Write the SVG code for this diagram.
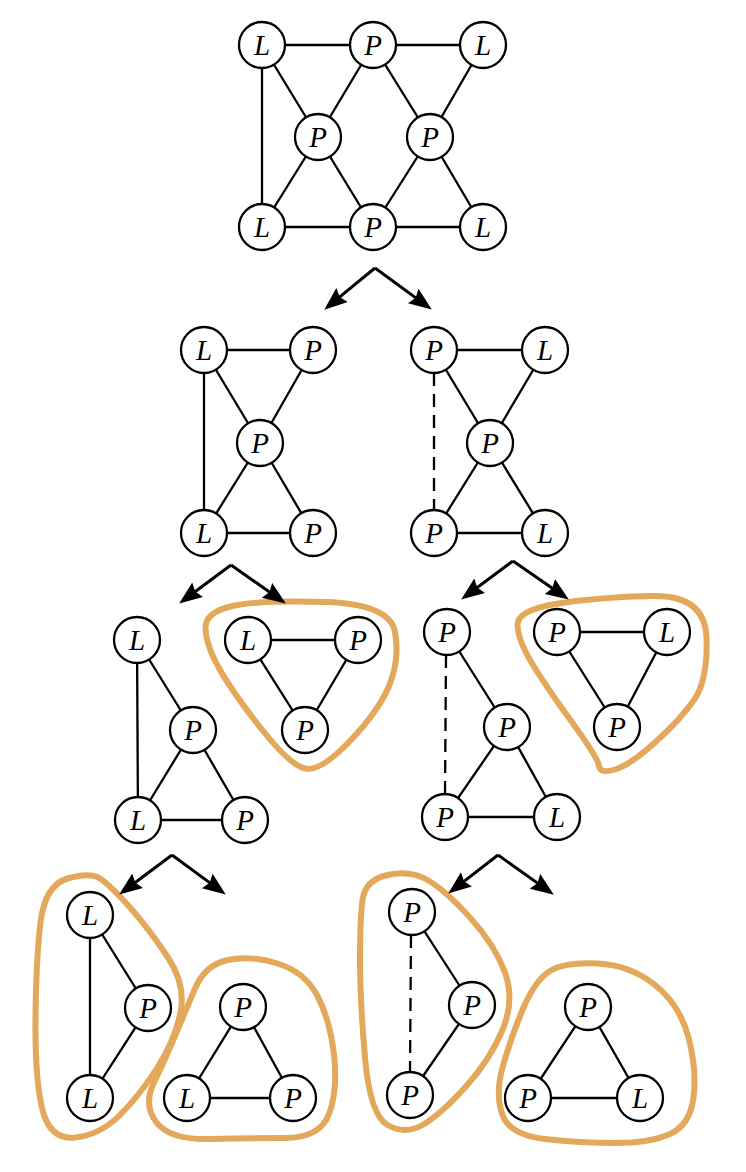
<svg xmlns="http://www.w3.org/2000/svg" width="746" height="1172" viewBox="0 0 746 1172">
  <style>
    .node circle { fill: #fff; stroke: #000; stroke-width: 2.3; }
    .node text { font-family: "Liberation Serif", "DejaVu Serif", serif; font-style: italic; font-size: 29px; text-anchor: middle; fill: #000; }
    .edge { stroke: #000; stroke-width: 2.3; fill: none; }
    .dash { stroke-dasharray: 13 8; }
    .arrow { stroke: #000; stroke-width: 3; fill: none; marker-end: url(#head); }
    .hull { fill: none; stroke: #E3A85A; stroke-width: 6; stroke-linejoin: round; }
  </style>
  <defs>
    <marker id="head" markerUnits="userSpaceOnUse" markerWidth="26" markerHeight="20" refX="10" refY="9" orient="auto">
      <path d="M0,0 L23,9 L0,18 L3,9 Z" fill="#000"/>
    </marker>
  </defs>
  <rect width="746" height="1172" fill="#fff"/>

  <!-- cluster outlines -->
  <g id="outlines">
    <path class="hull" d="M205.5,628.5 Q205,612 232.5,606 Q260,600 325,602 Q390,604 395,632 Q400,660 389,686 Q378,712 349,742 Q320,772 305,768.5 Q290,765 261.5,729 Q233,693 219.5,669 Q206,645 205.5,628.5 Z"/>
    <path class="hull" stroke-width="6.5" d="M517.5,625 Q517,610 558.5,603.5 Q600,597 652.5,596 Q705,595 706.5,637.5 Q708,680 694,700 Q680,720 655,742.5 Q630,765 615,769.5 Q600,774 599,766 Q598,758 571.5,721.5 Q545,685 531.5,662.5 Q518,640 517.5,625 Z"/>
    <path class="hull" d="M100,878.5 Q90,872 67.5,878.5 Q45,885 40.5,922.5 Q36,960 35.5,1020 Q35,1080 42.5,1110 Q50,1140 75,1137.5 Q100,1135 120,1115 Q140,1095 157.5,1067.5 Q175,1040 180.5,1012.5 Q186,985 168,957.5 Q150,930 130,907.5 Q110,885 100,878.5 Z"/>
    <path class="hull" d="M175,1036 Q185,1012 195,988.5 Q205,965 227.5,960 Q250,955 277.5,963.5 Q305,972 317.5,996 Q330,1020 334,1055 Q338,1090 329,1114 Q320,1138 285,1138 Q250,1138 210,1139 Q170,1140 156.5,1122.5 Q143,1105 154,1082.5 Q165,1060 175,1036 Z"/>
    <path class="hull" d="M362.5,900 Q365,880 387.5,875 Q410,870 427.5,880 Q445,890 470,917.5 Q495,945 505,972.5 Q515,1000 502.5,1030 Q490,1060 465,1087.5 Q440,1115 422.5,1125 Q405,1135 387.5,1125 Q370,1115 365,1057.5 Q360,1000 360,960 Q360,920 362.5,900 Z"/>
    <path class="hull" stroke-width="4" d="M550,971 Q565,962 597.5,963.5 Q630,965 655,985 Q680,1005 688.5,1037.5 Q697,1070 693.5,1097.5 Q690,1125 670,1134 Q650,1143 615,1143 Q580,1143 545,1139 Q510,1135 502.5,1115 Q495,1095 502.5,1067.5 Q510,1040 522.5,1010 Q535,980 550,971 Z"/>
  </g>

  <!-- connectors -->
  <g id="connectors">
    <!-- top graph -->
    <line class="edge" x1="262" y1="45" x2="373" y2="45"/>
    <line class="edge" x1="373" y1="45" x2="483" y2="45"/>
    <line class="edge" x1="262" y1="45" x2="262" y2="227"/>
    <line class="edge" x1="262" y1="45" x2="318" y2="137"/>
    <line class="edge" x1="373" y1="45" x2="318" y2="137"/>
    <line class="edge" x1="373" y1="45" x2="430" y2="137"/>
    <line class="edge" x1="483" y1="45" x2="430" y2="137"/>
    <line class="edge" x1="318" y1="137" x2="262" y2="227"/>
    <line class="edge" x1="318" y1="137" x2="373" y2="227"/>
    <line class="edge" x1="430" y1="137" x2="373" y2="227"/>
    <line class="edge" x1="430" y1="137" x2="483" y2="227"/>
    <line class="edge" x1="262" y1="227" x2="373" y2="227"/>
    <line class="edge" x1="373" y1="227" x2="483" y2="227"/>
    <!-- second row, left -->
    <line class="edge" x1="204" y1="350" x2="313" y2="350"/>
    <line class="edge" x1="204" y1="350" x2="204" y2="533"/>
    <line class="edge" x1="204" y1="350" x2="260" y2="443"/>
    <line class="edge" x1="313" y1="350" x2="260" y2="443"/>
    <line class="edge" x1="260" y1="443" x2="204" y2="533"/>
    <line class="edge" x1="260" y1="443" x2="313" y2="533"/>
    <line class="edge" x1="204" y1="533" x2="313" y2="533"/>
    <!-- second row, right -->
    <line class="edge" x1="434" y1="350" x2="545" y2="350"/>
    <line class="edge dash" x1="434" y1="373" x2="434" y2="510"/>
    <line class="edge" x1="434" y1="350" x2="490" y2="443"/>
    <line class="edge" x1="545" y1="350" x2="490" y2="443"/>
    <line class="edge" x1="490" y1="443" x2="434" y2="533"/>
    <line class="edge" x1="490" y1="443" x2="545" y2="533"/>
    <line class="edge" x1="434" y1="533" x2="545" y2="533"/>
    <!-- third row -->
    <line class="edge" x1="137" y1="640" x2="138" y2="820"/>
    <line class="edge" x1="137" y1="640" x2="193" y2="730"/>
    <line class="edge" x1="193" y1="730" x2="138" y2="820"/>
    <line class="edge" x1="193" y1="730" x2="245" y2="820"/>
    <line class="edge" x1="138" y1="820" x2="245" y2="820"/>
    <line class="edge" x1="248" y1="640" x2="358" y2="640"/>
    <line class="edge" x1="248" y1="640" x2="305" y2="730"/>
    <line class="edge" x1="358" y1="640" x2="305" y2="730"/>
    <line class="edge dash" x1="446" y1="655" x2="445" y2="794"/>
    <line class="edge" x1="447" y1="632" x2="507" y2="727"/>
    <line class="edge" x1="507" y1="727" x2="445" y2="817"/>
    <line class="edge" x1="507" y1="727" x2="557" y2="817"/>
    <line class="edge" x1="445" y1="817" x2="557" y2="817"/>
    <line class="edge" x1="557" y1="632" x2="667" y2="632"/>
    <line class="edge" x1="557" y1="632" x2="617" y2="727"/>
    <line class="edge" x1="667" y1="632" x2="617" y2="727"/>
    <!-- fourth row -->
    <line class="edge" x1="90" y1="915" x2="90" y2="1098"/>
    <line class="edge" x1="90" y1="915" x2="148" y2="1008"/>
    <line class="edge" x1="148" y1="1008" x2="90" y2="1098"/>
    <line class="edge" x1="243" y1="1007" x2="187" y2="1098"/>
    <line class="edge" x1="243" y1="1007" x2="293" y2="1098"/>
    <line class="edge" x1="187" y1="1098" x2="293" y2="1098"/>
    <line class="edge dash" x1="411" y1="935" x2="410" y2="1072"/>
    <line class="edge" x1="412" y1="912" x2="472" y2="1005"/>
    <line class="edge" x1="472" y1="1005" x2="410" y2="1095"/>
    <line class="edge" x1="588" y1="1007" x2="528" y2="1098"/>
    <line class="edge" x1="588" y1="1007" x2="640" y2="1098"/>
    <line class="edge" x1="528" y1="1098" x2="640" y2="1098"/>
    <!-- split arrows -->
    <polyline class="arrow" points="375,268 334.3,301.4"/>
    <polyline class="arrow" points="375,268 421.3,301.9"/>
    <polyline class="arrow" points="231,565 189.6,595.8"/>
    <polyline class="arrow" points="231,565 275.2,596.1"/>
    <polyline class="arrow" points="513,561 471.6,591.8"/>
    <polyline class="arrow" points="513,561 558.1,592.2"/>
    <polyline class="arrow" points="172,855 129.6,886.8"/>
    <polyline class="arrow" points="172,855 215.3,886.9"/>
    <polyline class="arrow" points="498,855 458.5,885.6"/>
    <polyline class="arrow" points="498,855 543.2,887.1"/>
  </g>

  <!-- top graph -->
  <g id="t1" class="node"><circle cx="262" cy="45" r="23"/><text x="262" y="55">L</text></g>
  <g id="t2" class="node"><circle cx="373" cy="45" r="23"/><text x="373" y="55">P</text></g>
  <g id="t3" class="node"><circle cx="483" cy="45" r="23"/><text x="483" y="55">L</text></g>
  <g id="t4" class="node"><circle cx="318" cy="137" r="23"/><text x="318" y="147">P</text></g>
  <g id="t5" class="node"><circle cx="430" cy="137" r="23"/><text x="430" y="147">P</text></g>
  <g id="t6" class="node"><circle cx="262" cy="227" r="23"/><text x="262" y="237">L</text></g>
  <g id="t7" class="node"><circle cx="373" cy="227" r="23"/><text x="373" y="237">P</text></g>
  <g id="t8" class="node"><circle cx="483" cy="227" r="23"/><text x="483" y="237">L</text></g>

  <!-- second row, left -->
  <g id="a1" class="node"><circle cx="204" cy="350" r="23"/><text x="204" y="360">L</text></g>
  <g id="a2" class="node"><circle cx="313" cy="350" r="23"/><text x="313" y="360">P</text></g>
  <g id="a3" class="node"><circle cx="260" cy="443" r="23"/><text x="260" y="453">P</text></g>
  <g id="a4" class="node"><circle cx="204" cy="533" r="23"/><text x="204" y="543">L</text></g>
  <g id="a5" class="node"><circle cx="313" cy="533" r="23"/><text x="313" y="543">P</text></g>

  <!-- second row, right -->
  <g id="b1" class="node"><circle cx="434" cy="350" r="23"/><text x="434" y="360">P</text></g>
  <g id="b2" class="node"><circle cx="545" cy="350" r="23"/><text x="545" y="360">L</text></g>
  <g id="b3" class="node"><circle cx="490" cy="443" r="23"/><text x="490" y="453">P</text></g>
  <g id="b4" class="node"><circle cx="434" cy="533" r="23"/><text x="434" y="543">P</text></g>
  <g id="b5" class="node"><circle cx="545" cy="533" r="23"/><text x="545" y="543">L</text></g>

  <!-- third row -->
  <g id="c1" class="node"><circle cx="137" cy="640" r="23"/><text x="137" y="650">L</text></g>
  <g id="c2" class="node"><circle cx="193" cy="730" r="23"/><text x="193" y="740">P</text></g>
  <g id="c3" class="node"><circle cx="138" cy="820" r="23"/><text x="138" y="830">L</text></g>
  <g id="c4" class="node"><circle cx="245" cy="820" r="23"/><text x="245" y="830">P</text></g>
  <g id="d1" class="node"><circle cx="248" cy="640" r="23"/><text x="248" y="650">L</text></g>
  <g id="d2" class="node"><circle cx="358" cy="640" r="23"/><text x="358" y="650">P</text></g>
  <g id="d3" class="node"><circle cx="305" cy="730" r="23"/><text x="305" y="740">P</text></g>
  <g id="e1" class="node"><circle cx="447" cy="632" r="23"/><text x="447" y="642">P</text></g>
  <g id="e2" class="node"><circle cx="507" cy="727" r="23"/><text x="507" y="737">P</text></g>
  <g id="e3" class="node"><circle cx="445" cy="817" r="23"/><text x="445" y="827">P</text></g>
  <g id="e4" class="node"><circle cx="557" cy="817" r="23"/><text x="557" y="827">L</text></g>
  <g id="f1" class="node"><circle cx="557" cy="632" r="23"/><text x="557" y="642">P</text></g>
  <g id="f2" class="node"><circle cx="667" cy="632" r="23"/><text x="667" y="642">L</text></g>
  <g id="f3" class="node"><circle cx="617" cy="727" r="23"/><text x="617" y="737">P</text></g>

  <!-- fourth row -->
  <g id="g1" class="node"><circle cx="90" cy="915" r="23"/><text x="90" y="925">L</text></g>
  <g id="g2" class="node"><circle cx="148" cy="1008" r="23"/><text x="148" y="1018">P</text></g>
  <g id="g3" class="node"><circle cx="90" cy="1098" r="23"/><text x="90" y="1108">L</text></g>
  <g id="h1" class="node"><circle cx="243" cy="1007" r="23"/><text x="243" y="1017">P</text></g>
  <g id="h2" class="node"><circle cx="187" cy="1098" r="23"/><text x="187" y="1108">L</text></g>
  <g id="h3" class="node"><circle cx="293" cy="1098" r="23"/><text x="293" y="1108">P</text></g>
  <g id="i1" class="node"><circle cx="412" cy="912" r="23"/><text x="412" y="922">P</text></g>
  <g id="i2" class="node"><circle cx="472" cy="1005" r="23"/><text x="472" y="1015">P</text></g>
  <g id="i3" class="node"><circle cx="410" cy="1095" r="23"/><text x="410" y="1105">P</text></g>
  <g id="j1" class="node"><circle cx="588" cy="1007" r="23"/><text x="588" y="1017">P</text></g>
  <g id="j2" class="node"><circle cx="528" cy="1098" r="23"/><text x="528" y="1108">P</text></g>
  <g id="j3" class="node"><circle cx="640" cy="1098" r="23"/><text x="640" y="1108">L</text></g>
</svg>
